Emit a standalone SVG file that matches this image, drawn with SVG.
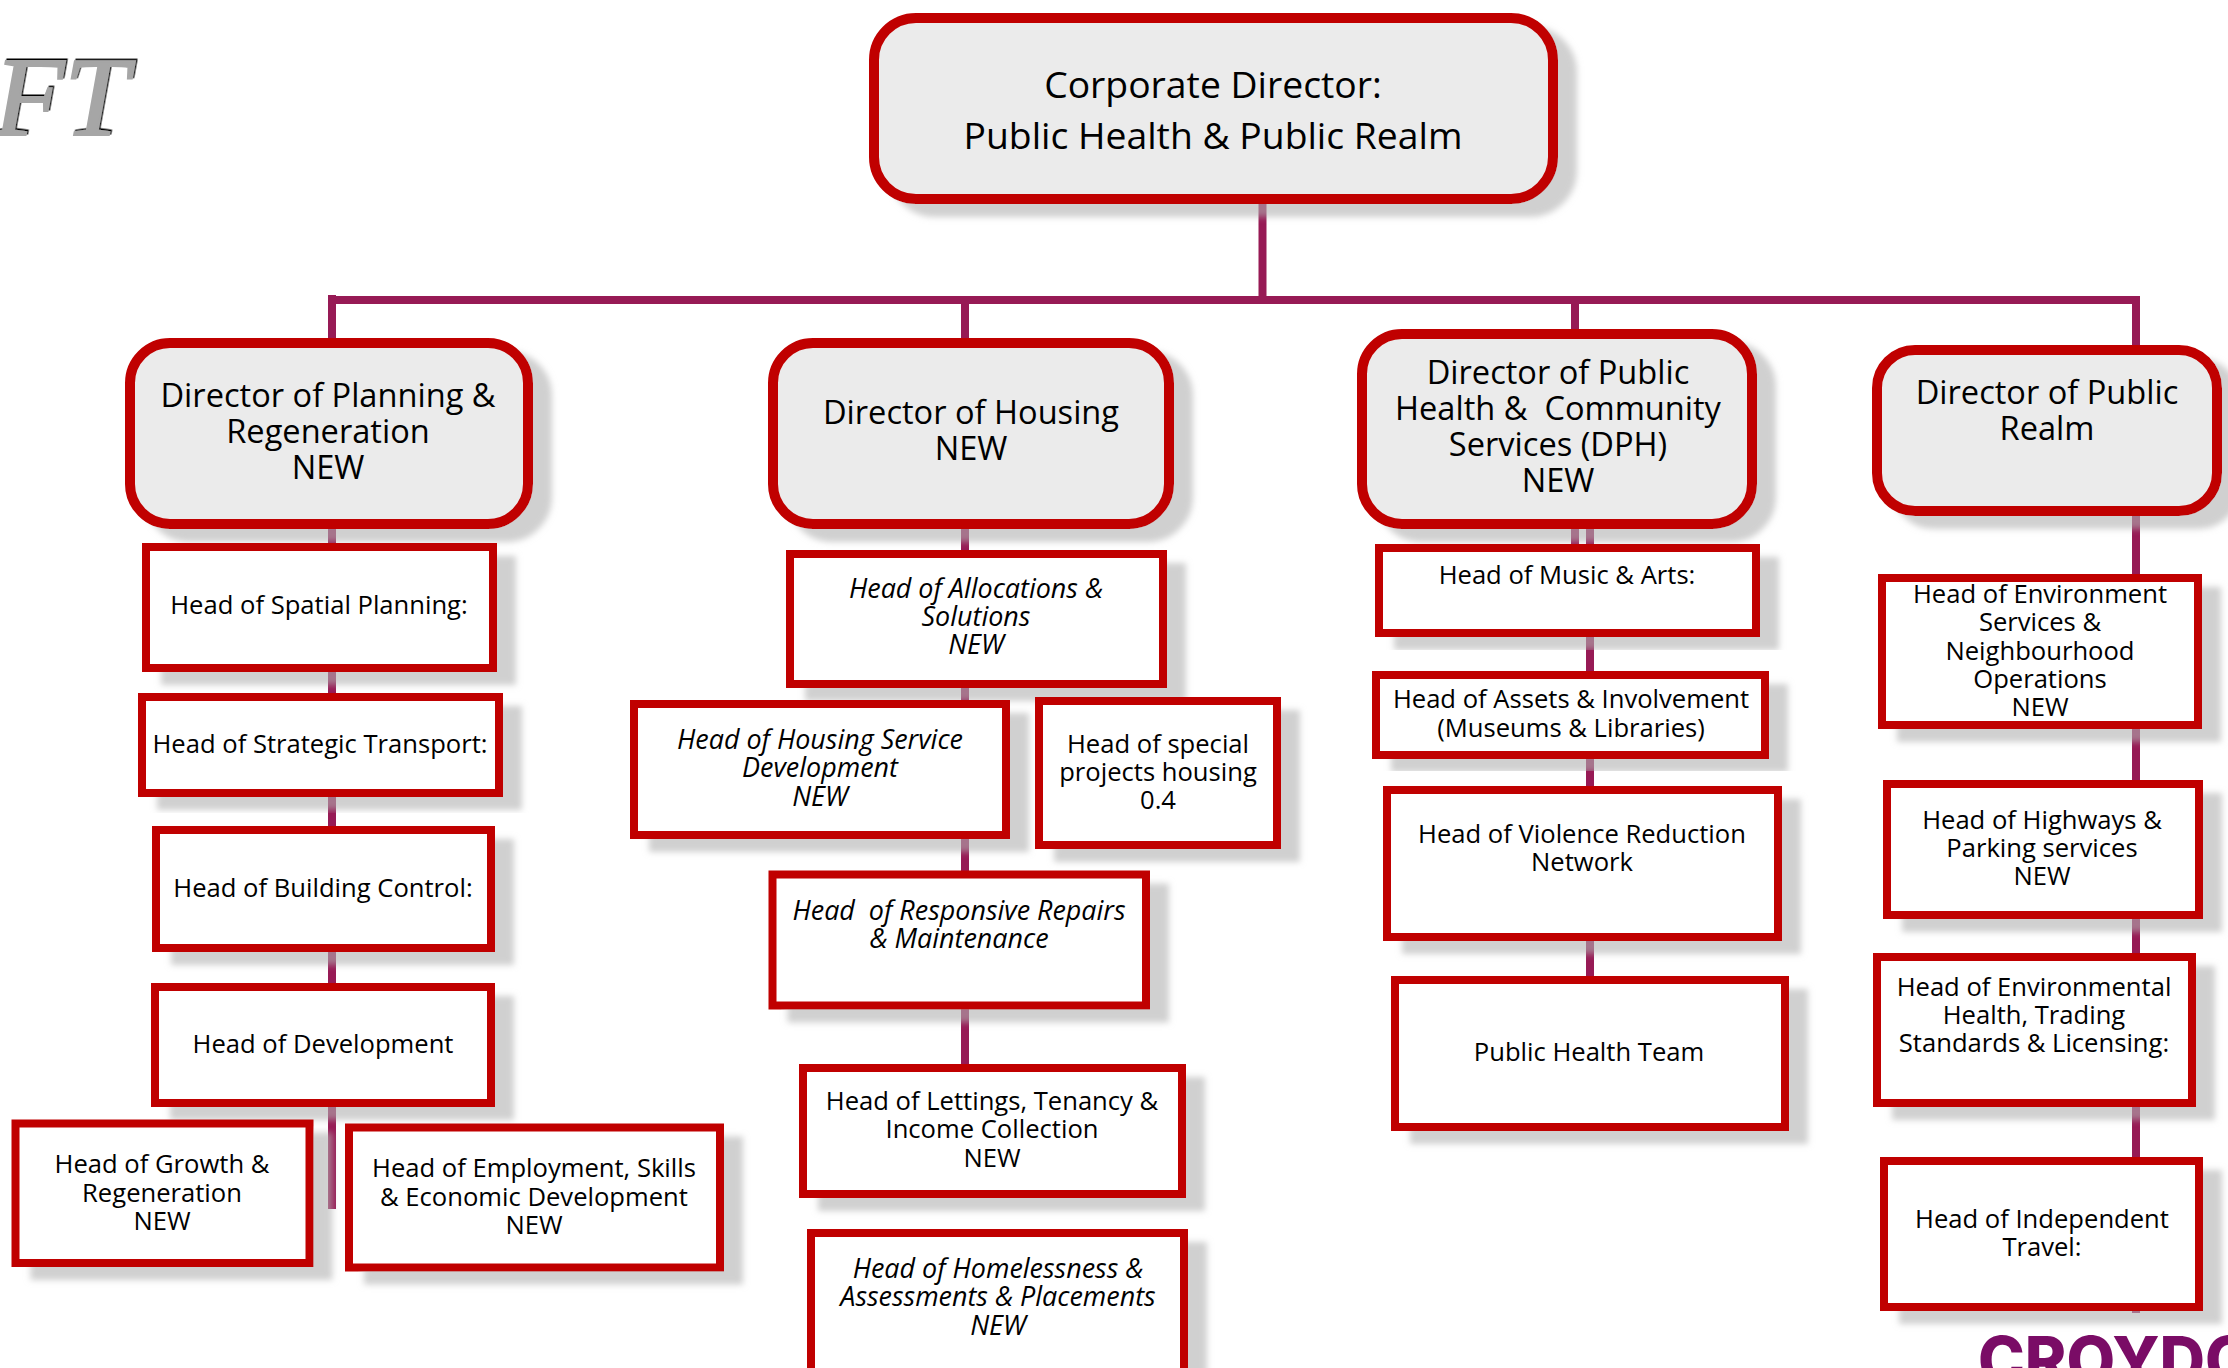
<svg xmlns="http://www.w3.org/2000/svg" width="2228" height="1368" viewBox="0 0 2228 1368">
<style>
text{font-family:"Open Sans","Noto Sans","DejaVu Sans",sans-serif;fill:#000;text-anchor:middle;white-space:pre}
.c{font-size:37.3px}.d{font-size:32.6px}.h{font-size:25.6px}.i{font-style:italic;font-size:26.9px}
.r{fill:#ebebeb;stroke:#c00000;stroke-width:10;filter:url(#s)}
.b{fill:#fff;stroke:#c00000;stroke-width:8;filter:url(#s)}
.l{stroke:#971a55;stroke-width:8;fill:none}
</style>
<defs>
<filter id="s" x="-10%" y="-10%" width="125%" height="130%"><feDropShadow dx="19" dy="13" stdDeviation="3" flood-color="#b0b0b0" flood-opacity="0.6"/></filter>
<filter id="o" x="-5%" y="-5%" width="110%" height="110%"><feDropShadow dx="1.500" dy="-1.500" stdDeviation="0" flood-color="#000"/></filter>
</defs>
<rect width="2228" height="1368" fill="#fff"/>
<g id="connectors">
<path class="l" d="M1262.500 203V300M328 300H2140"/>
<path class="l" d="M332 295V1209"/>
<path class="l" d="M965 300V1064"/>
<path class="l" d="M1575 300V544M1590 517V976"/>
<path class="l" d="M2136 300V1313"/>
</g>
<g id="watermark"><text x="-6" y="135" textLength="134" lengthAdjust="spacingAndGlyphs" font-style="italic" style="font-family:'Liberation Serif',serif;font-size:112px;fill:#a6a6a6;stroke:#a6a6a6;stroke-width:2;text-anchor:start" filter="url(#o)">FT</text></g>
<g id="logo"><text x="1978" y="1383" textLength="324" lengthAdjust="spacingAndGlyphs" style="font-family:Inter,'Open Sans',sans-serif;font-size:64px;font-weight:800;fill:#7a0c66;text-anchor:start">CROYDON</text></g>
<g id="corporate"><rect class="r" x="874" y="18" width="679" height="181" rx="42"/><text class="c"><tspan x="1213" y="98">Corporate Director:</tspan><tspan x="1213" y="149">Public Health &amp; Public Realm</tspan></text></g>
<g id="d-planning"><rect class="r" x="130" y="343" width="398" height="181" rx="40"/><text class="d"><tspan x="328" y="407">Director of Planning &amp;</tspan><tspan x="328" y="443">Regeneration</tspan><tspan x="328" y="479">NEW</tspan></text></g>
<g id="d-housing"><rect class="r" x="773" y="343" width="396" height="181" rx="40"/><text class="d"><tspan x="971" y="424">Director of Housing</tspan><tspan x="971" y="460">NEW</tspan></text></g>
<g id="d-health"><rect class="r" x="1362" y="334" width="390" height="190" rx="40"/><text class="d"><tspan x="1558" y="384">Director of Public</tspan><tspan x="1558" y="420">Health &amp;  Community</tspan><tspan x="1558" y="456">Services (DPH)</tspan><tspan x="1558" y="492">NEW</tspan></text></g>
<g id="d-realm"><rect class="r" x="1877" y="350" width="340" height="161" rx="38"/><text class="d"><tspan x="2047" y="404">Director of Public</tspan><tspan x="2047" y="440">Realm</tspan></text></g>
<g id="h-spatial"><rect class="b" x="146" y="547" width="347" height="121"/><text class="h"><tspan x="319" y="614">Head of Spatial Planning:</tspan></text></g>
<g id="h-transport"><rect class="b" x="142" y="697" width="357" height="96"/><text class="h"><tspan x="320" y="753">Head of Strategic Transport:</tspan></text></g>
<g id="h-building"><rect class="b" x="156" y="830" width="335" height="118"/><text class="h"><tspan x="323" y="897">Head of Building Control:</tspan></text></g>
<g id="h-development"><rect class="b" x="155" y="987" width="336" height="116"/><text class="h"><tspan x="323" y="1053">Head of Development</tspan></text></g>
<g id="h-growth"><rect class="b" x="15.500" y="1123.500" width="294" height="139.500"/><text class="h"><tspan x="162" y="1173">Head of Growth &amp;</tspan><tspan x="162" y="1202">Regeneration</tspan><tspan x="162" y="1230">NEW</tspan></text></g>
<g id="h-employment"><rect class="b" x="349" y="1127.500" width="371" height="140"/><text class="h"><tspan x="534" y="1177">Head of Employment, Skills</tspan><tspan x="534" y="1206">&amp; Economic Development</tspan><tspan x="534" y="1234">NEW</tspan></text></g>
<g id="h-allocations"><rect class="b" x="790" y="554" width="373" height="130"/><text class="h i"><tspan x="976" y="598">Head of Allocations &amp;</tspan><tspan x="976" y="626">Solutions</tspan><tspan x="976" y="654">NEW</tspan></text></g>
<g id="h-service"><rect class="b" x="634" y="704" width="372" height="131"/><text class="h i"><tspan x="820" y="749">Head of Housing Service</tspan><tspan x="820" y="777">Development</tspan><tspan x="820" y="806">NEW</tspan></text></g>
<g id="h-special"><rect class="b" x="1039" y="701" width="238" height="144"/><text class="h"><tspan x="1158" y="753">Head of special</tspan><tspan x="1158" y="781">projects housing</tspan><tspan x="1158" y="809">0.4</tspan></text></g>
<g id="h-repairs"><rect class="b" x="772.500" y="874.500" width="373.500" height="131"/><text class="h i"><tspan x="959" y="920">Head  of Responsive Repairs</tspan><tspan x="959" y="948">&amp; Maintenance</tspan></text></g>
<g id="h-lettings"><rect class="b" x="803" y="1068" width="379" height="126"/><text class="h"><tspan x="992" y="1110">Head of Lettings, Tenancy &amp;</tspan><tspan x="992" y="1138">Income Collection</tspan><tspan x="992" y="1167">NEW</tspan></text></g>
<g id="h-homeless"><rect class="b" x="811" y="1233" width="373" height="140"/><text class="h i"><tspan x="998" y="1278">Head of Homelessness &amp;</tspan><tspan x="998" y="1306">Assessments &amp; Placements</tspan><tspan x="998" y="1335">NEW</tspan></text></g>
<g id="h-music"><rect class="b" x="1379" y="548" width="377" height="85"/><text class="h"><tspan x="1567" y="584">Head of Music &amp; Arts:</tspan></text></g>
<g id="h-assets"><rect class="b" x="1376" y="675" width="389" height="80"/><text class="h"><tspan x="1571" y="708">Head of Assets &amp; Involvement</tspan><tspan x="1571" y="737">(Museums &amp; Libraries)</tspan></text></g>
<g id="h-violence"><rect class="b" x="1387" y="790" width="391" height="147"/><text class="h"><tspan x="1582" y="843">Head of Violence Reduction</tspan><tspan x="1582" y="871">Network</tspan></text></g>
<g id="h-phteam"><rect class="b" x="1395" y="980" width="390" height="147"/><text class="h"><tspan x="1589" y="1061">Public Health Team</tspan></text></g>
<g id="h-environment"><rect class="b" x="1882" y="578" width="316" height="147"/><text class="h"><tspan x="2040" y="603">Head of Environment</tspan><tspan x="2040" y="631">Services &amp;</tspan><tspan x="2040" y="660">Neighbourhood</tspan><tspan x="2040" y="688">Operations</tspan><tspan x="2040" y="716">NEW</tspan></text></g>
<g id="h-highways"><rect class="b" x="1887" y="784" width="312" height="131"/><text class="h"><tspan x="2042" y="829">Head of Highways &amp;</tspan><tspan x="2042" y="857">Parking services</tspan><tspan x="2042" y="885">NEW</tspan></text></g>
<g id="h-envhealth"><rect class="b" x="1877" y="957" width="315" height="146"/><text class="h"><tspan x="2034" y="996">Head of Environmental</tspan><tspan x="2034" y="1024">Health, Trading</tspan><tspan x="2034" y="1052">Standards &amp; Licensing:</tspan></text></g>
<g id="h-travel"><rect class="b" x="1884" y="1161" width="315" height="146"/><text class="h"><tspan x="2042" y="1228">Head of Independent</tspan><tspan x="2042" y="1256">Travel:</tspan></text></g>
</svg>
